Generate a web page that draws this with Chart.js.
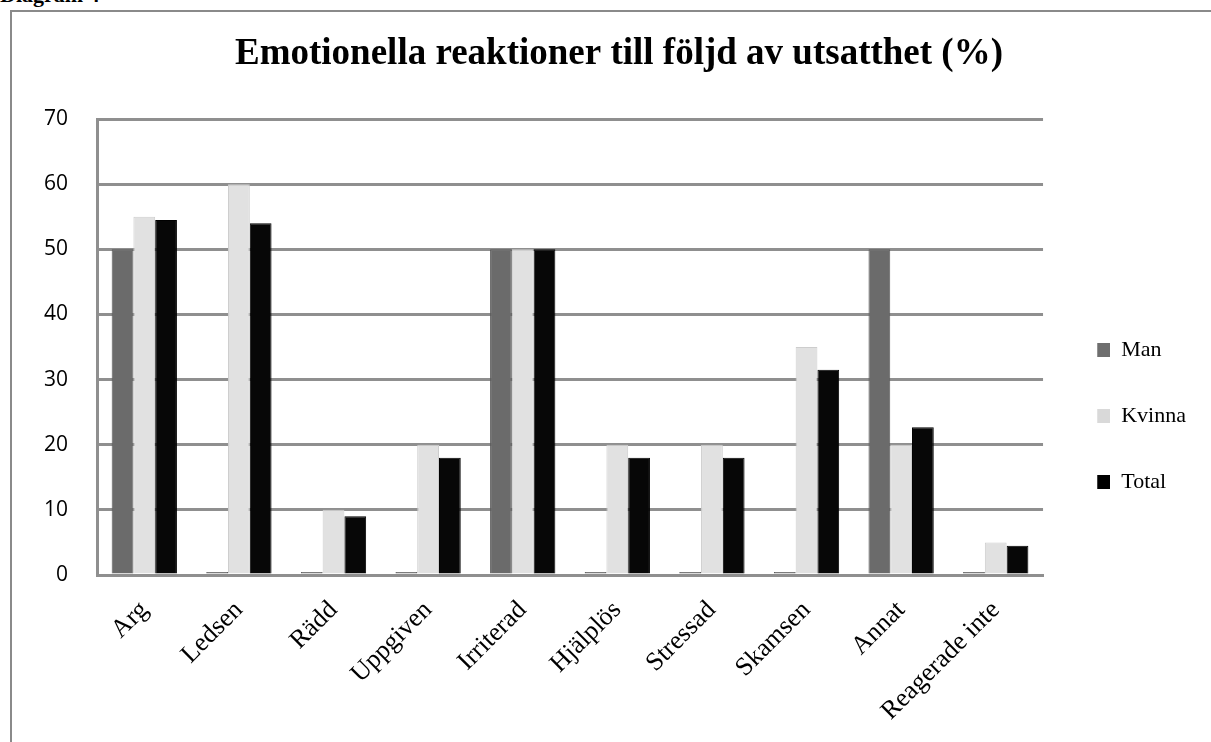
<!DOCTYPE html>
<html>
<head>
<meta charset="utf-8">
<script src="https://cdn.jsdelivr.net/npm/chart.js@4.4.1/dist/chart.umd.min.js"></script>
<style>
html,body{margin:0;padding:0;background:#fff;overflow:hidden;}
#wrap{position:relative;width:1211px;height:742px;overflow:hidden;}
#frame{position:absolute;left:10px;top:10px;width:1300px;height:800px;border-left:2px solid #8a8a8a;border-top:2px solid #8a8a8a;}
#cap{position:absolute;left:0;top:-18px;font:bold 22px "Liberation Serif",serif;color:#000;white-space:nowrap;}
canvas{position:absolute;left:0;top:0;}
</style>
</head>
<body>
<div id="wrap">
  <div id="cap">Diagram 4</div>
  <div id="frame"></div>
  <canvas id="c" width="1211" height="742"></canvas>
</div>
<script>
const categories = ['Arg','Ledsen','Rädd','Uppgiven','Irriterad','Hjälplös','Stressad','Skamsen','Annat','Reagerade inte'];
const seriesNames = ['Man','Kvinna','Total'];
const manValues = [50, 0, 0, 0, 50, 0, 0, 0, 50, 0];
const kvinnaValues = [55, 60, 10, 20, 50, 20, 20, 35, 20, 5];
const totalValues = [54.5, 54, 9, 18, 50, 18, 18, 31.5, 22.7, 4.5];
const yTicks = [0, 10, 20, 30, 40, 50, 60, 70];
const titleText = 'Emotionella reaktioner till följd av utsatthet (%)';

const fillColors = ['#6b6b6b', '#e1e1e1', '#070707'];
const borderColors = ['#5a5a5a', '#cdcdcd', '#000000'];
const swatchColors = ['#6e6e6e', '#d9d9d9', '#000000'];

function makeSwatch(color) {
  const c = document.createElement('canvas');
  c.width = 23; c.height = 14;
  const g = c.getContext('2d');
  g.fillStyle = color;
  g.fillRect(10, 0, 13, 14);
  return c;
}
const swatches = swatchColors.map(makeSwatch);

const serif = '"Liberation Serif", "Times New Roman", serif';
const padLeft = 42;

new Chart(document.getElementById('c'), {
  type: 'bar',
  data: {
    labels: categories,
    datasets: [
      { label: seriesNames[0], data: manValues, backgroundColor: fillColors[0], borderColor: borderColors[0], borderWidth: 1, minBarLength: 3 },
      { label: seriesNames[1], data: kvinnaValues, backgroundColor: fillColors[1], borderColor: borderColors[1], borderWidth: 1 },
      { label: seriesNames[2], data: totalValues, backgroundColor: fillColors[2], borderColor: borderColors[2], borderWidth: 1 }
    ]
  },
  options: {
    responsive: false,
    animation: false,
    devicePixelRatio: 1,
    layout: { padding: { left: padLeft, right: 15, top: 0, bottom: 0 } },
    datasets: { bar: { categoryPercentage: 0.69, barPercentage: 1.0 } },
    plugins: {
      tooltip: { enabled: false },
      title: {
        display: true,
        text: titleText,
        color: '#000',
        font: { family: serif, size: 37, weight: 'bold' },
        padding: { top: 32, bottom: 42.6 }
      },
      legend: {
        display: true,
        position: 'right',
        align: 'center',
        title: { display: true, text: '', font: { size: 10 }, padding: { top: 39, bottom: 39 } },
        labels: {
          color: '#000',
          font: { family: serif, size: 22 },
          usePointStyle: true,
          pointStyleWidth: 23,
          padding: 44.2,
          generateLabels(chart) {
            const items = Chart.defaults.plugins.legend.labels.generateLabels(chart);
            items.forEach((it, i) => { it.pointStyle = swatches[i]; });
            return items;
          }
        }
      }
    },
    scales: {
      x: {
        grid: { display: false, drawTicks: false },
        border: { display: true, color: '#8f8f8f', width: 3 },
        ticks: {
          color: '#000',
          font: { family: serif, size: 26 },
          maxRotation: 45,
          minRotation: 45,
          padding: 20,
          autoSkip: false
        },
        afterFit(scale) { scale.height = 167; }
      },
      y: {
        min: 0,
        max: 70,
        afterBuildTicks(scale) { scale.ticks = yTicks.map(v => ({ value: v })); },
        grid: { color: '#8f8f8f', lineWidth: 3, drawTicks: false },
        border: { display: true, color: '#8f8f8f', width: 3 },
        ticks: {
          color: '#000',
          font: { family: '"Open Sans", sans-serif', size: 21 },
          padding: 29
        },
        afterFit(scale) { scale.width = 97 - padLeft; }
      }
    }
  }
});
</script>
</body>
</html>
